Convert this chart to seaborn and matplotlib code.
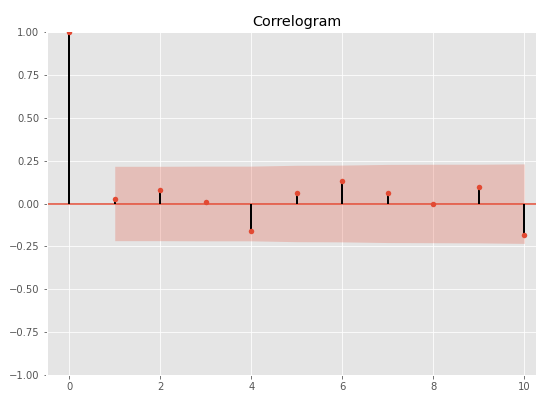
import matplotlib
matplotlib.use("Agg")
import matplotlib.pyplot as plt
import seaborn as sns
import numpy as np
import pandas as pd

lags = [0, 1, 2, 3, 4, 5, 6, 7, 8, 9, 10]
acf_values = [1.0, 0.025, 0.077, 0.009, -0.158, 0.060, 0.134, 0.061, -0.003, 0.095, -0.183]
band_lags = [1, 2, 3, 4, 5, 6, 7, 8, 9, 10]
band_upper = [0.218, 0.218, 0.219, 0.219, 0.224, 0.225, 0.229, 0.230, 0.230, 0.232]
band_lower = [-0.216, -0.216, -0.217, -0.217, -0.222, -0.223, -0.227, -0.228, -0.229, -0.232]
title = "Correlogram"

plt.style.use("ggplot")
df = pd.DataFrame({"lag": lags, "acf": acf_values})

W, H = 536, 409
fig = plt.figure(figsize=(W / 72, H / 72), dpi=72)
ax = fig.add_axes([46.5 / W, (H - 375) / H, (547 - 46.5) / W, (375 - 32.3) / H])

c0 = "#E24A33"
ax.fill_between(band_lags, band_lower, band_upper, color=c0, alpha=0.25, linewidth=0)
ax.axhline(0, color=c0, linewidth=1.5, zorder=2)
ax.vlines(df["lag"], 0, df["acf"], colors="k", linewidth=2, zorder=3)
sns.scatterplot(data=df, x="lag", y="acf", ax=ax, color=c0, s=30, edgecolor=c0,
                linewidth=0, zorder=4, legend=False)

ax.set_xlim(-0.5, 10.5)
ax.set_ylim(-1, 1)
ax.set_xticks([0, 2, 4, 6, 8, 10])
ax.set_yticks([-1.0, -0.75, -0.5, -0.25, 0.0, 0.25, 0.5, 0.75, 1.0])
ax.set_yticklabels(["\u22121.00", "\u22120.75", "\u22120.50", "\u22120.25", "0.00",
                    "0.25", "0.50", "0.75", "1.00"])
ax.set_xlabel("")
ax.set_ylabel("")
ax.tick_params(labelsize=10, colors="#555555")
ax.set_title(title, fontsize=14.4, color="black")

fig.savefig("out.png", dpi=72)
